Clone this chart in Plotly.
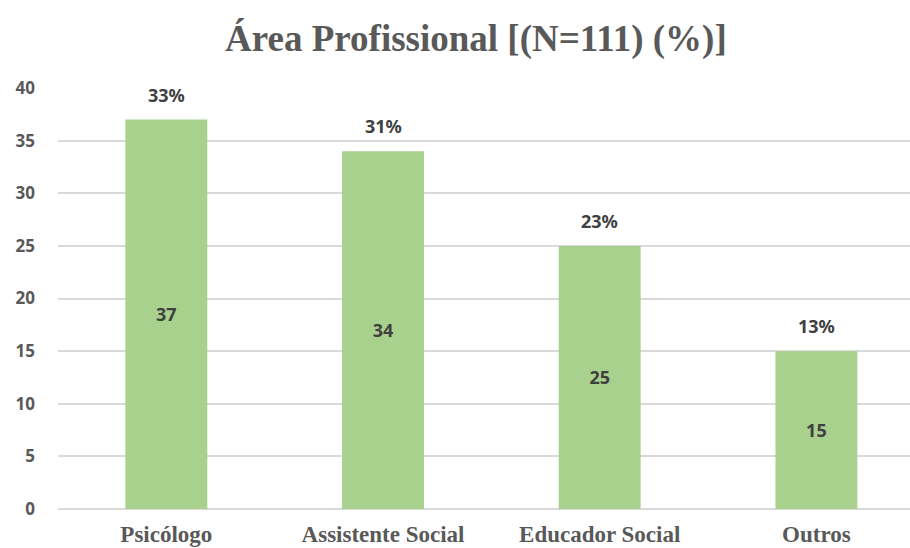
import plotly.graph_objects as go

categories = ["Psicólogo", "Assistente Social", "Educador Social", "Outros"]
values = [37, 34, 25, 15]
percent_labels = ["33%", "31%", "23%", "13%"]
y_ticks = [0, 5, 10, 15, 20, 25, 30, 35, 40]

fig = go.Figure()
fig.add_trace(go.Bar(
    x=categories, y=values,
    marker=dict(color="#A9D18E", line=dict(width=0)),
    width=0.378,
    text=[str(v) for v in values],
    textposition="inside", insidetextanchor="middle",
    textfont=dict(family="Noto Sans", size=18, color="#404040", weight="bold"),
    textangle=0,
))

for c, v, p in zip(categories, values, percent_labels):
    fig.add_annotation(x=c, y=v, text=p, showarrow=False, yanchor="middle", yshift=25,
                       font=dict(family="Noto Sans", size=18, color="#404040", weight="bold"))

fig.update_layout(
    width=910, height=548,
    margin=dict(l=58, r=0, t=88, b=39),
    plot_bgcolor="white", paper_bgcolor="white",
    showlegend=False,
    title=dict(text="Área Profissional [(N=111) (%)]", x=0.523, xanchor="center", y=0.93, yanchor="middle",
               font=dict(family="Liberation Serif", size=37, color="#595959", weight="bold")),
    xaxis=dict(range=[-0.5, 3.432], showgrid=False, showline=False, ticks="", automargin=False,
               ticklabelstandoff=9,
               tickfont=dict(family="Liberation Serif", size=23, color="#595959", weight="bold")),
    yaxis=dict(range=[0, 40], tickvals=y_ticks, showgrid=True, gridcolor="#D9D9D9", gridwidth=2,
               zeroline=True, zerolinecolor="#D9D9D9", zerolinewidth=2, showline=False, ticks="",
               automargin=False,
               tickfont=dict(family="Noto Sans", size=17, color="#595959", weight="bold"), ticklabelstandoff=22),
)

fig.write_html("out.html", config={"displayModeBar": False},
               post_script="document.body.style.margin='0';document.body.style.overflow='hidden';")
